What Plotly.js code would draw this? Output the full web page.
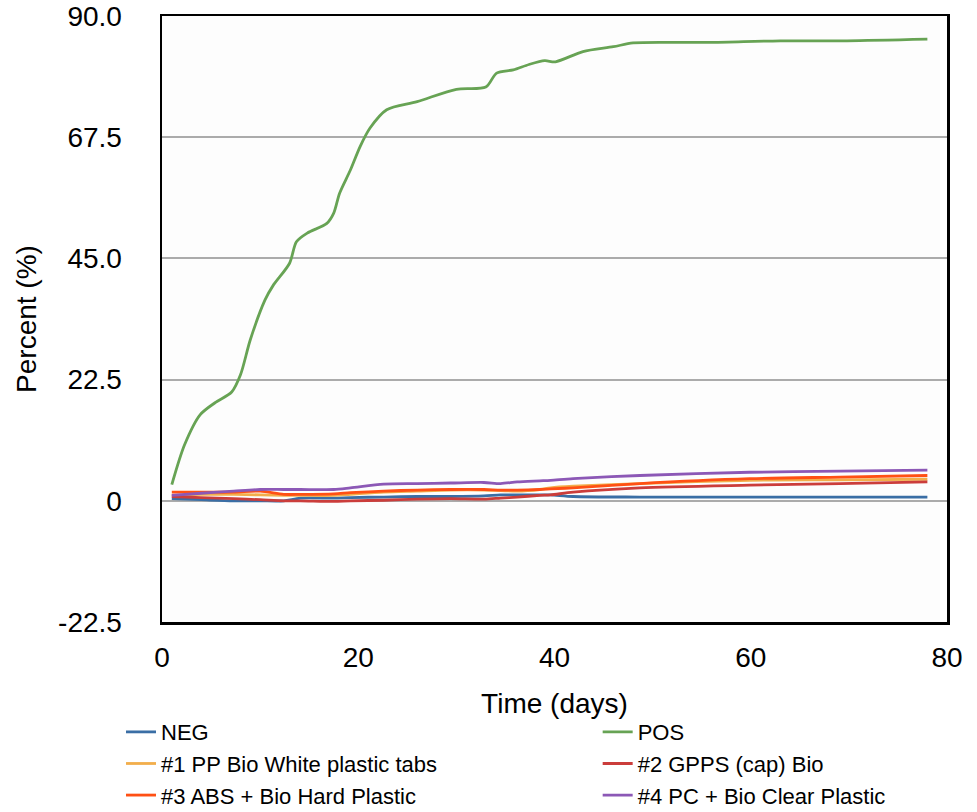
<!DOCTYPE html>
<html>
<head>
<meta charset="utf-8">
<script src="https://cdn.plot.ly/plotly-3.0.1.min.js"></script>
<style>html,body{margin:0;padding:0;background:#fff;}#chart{width:977px;height:812px;}</style>
</head>
<body>
<div id="chart"></div>
<script>
// Data
const names = ["NEG", "POS", "#1 PP Bio White plastic tabs", "#2 GPPS (cap) Bio", "#3 ABS + Bio Hard Plastic", "#4 PC + Bio Clear Plastic"];

const posDays = [1, 2.3, 3.9, 5.4, 7.1, 8, 9, 10.5, 11.3, 13, 13.7, 14.8, 16.8, 17.5, 18.1, 19.2, 20.2, 21.2, 22.9, 26, 30, 33, 34.1, 35.8, 37.4, 39, 40.1, 42.9, 46, 48, 52.8, 56.2, 63, 69.8, 78];
const posVals = [3.0, 10.4, 16.0, 18.2, 20.2, 23.4, 29.9, 37.3, 39.9, 44.1, 48.1, 49.7, 51.5, 53.4, 57.1, 61.4, 65.8, 69.2, 72.6, 74.1, 76.4, 76.8, 79.4, 80.0, 81.0, 81.7, 81.5, 83.4, 84.3, 85.0, 85.1, 85.1, 85.4, 85.4, 85.7];

const smallDays = [1, 4, 7.3, 10, 12.4, 14.1, 17.5, 19.2, 22.6, 26, 29.4, 32.8, 34.5, 36.2, 38.5, 39.6, 41.9, 48.7, 59.9, 69.1, 78];
const negVals = [0.4, 0.2, 0.0, 0.0, 0.0, 0.5, 0.5, 0.6, 0.7, 0.8, 0.8, 0.9, 1.1, 1.1, 1.1, 1.1, 0.8, 0.7, 0.7, 0.7, 0.7];
const ppVals  = [1.0, 1.2, 1.2, 1.1, 1.0, 1.0, 1.0, 1.2, 1.6, 1.8, 2.0, 2.0, 1.9, 1.8, 2.1, 2.4, 2.7, 3.2, 3.8, 3.9, 4.0];
const gppsVals = [0.8, 0.6, 0.4, 0.2, 0.0, 0.0, -0.1, 0.0, 0.1, 0.3, 0.4, 0.3, 0.5, 0.7, 1.0, 1.1, 1.6, 2.4, 2.9, 3.2, 3.5];
const absVals = [1.6, 1.6, 1.6, 1.8, 1.2, 1.2, 1.3, 1.5, 1.8, 2.0, 2.1, 2.1, 2.0, 2.0, 2.1, 2.2, 2.4, 3.2, 4.1, 4.4, 4.7];
const pcVals  = [1.0, 1.4, 1.8, 2.1, 2.1, 2.1, 2.1, 2.4, 3.1, 3.2, 3.3, 3.4, 3.2, 3.5, 3.7, 3.8, 4.1, 4.7, 5.3, 5.5, 5.7];

const colors = ["#3A6EA5", "#67A354", "#F2AE4B", "#CB3D3B", "#FF5014", "#8C58B6"];

const yTickVals = [-22.5, 0, 22.5, 45, 67.5, 90];
const yTickText = ["-22.5", "0", "22.5", "45.0", "67.5", "90.0"];
const xTickVals = [0, 20, 40, 60, 80];

const series = [
  [smallDays, negVals],
  [posDays, posVals],
  [smallDays, ppVals],
  [smallDays, gppsVals],
  [smallDays, absVals],
  [smallDays, pcVals]
];
// left legend column: NEG, #1, #3 ; right column: POS, #2, #4
const legendOf = ["legend", "legend2", "legend", "legend2", "legend", "legend2"];

const traces = series.map((s, i) => ({
  x: s[0], y: s[1], name: names[i], type: "scatter", mode: "lines",
  legend: legendOf[i],
  line: {color: colors[i], width: 2.8, shape: "spline", smoothing: 0.8}
}));

const fontFam = "Liberation Sans, Arial, Helvetica, sans-serif";

const legendBase = {
  orientation: "v", xanchor: "left", y: -0.147, yanchor: "top",
  font: {size: 22}, bgcolor: "rgba(0,0,0,0)", borderwidth: 0
};

const layout = {
  width: 977, height: 812,
  margin: {l: 162, r: 30, t: 16, b: 190, autoexpand: false},
  paper_bgcolor: "#ffffff",
  plot_bgcolor: "#fdfdfd",
  font: {family: fontFam, color: "#000", size: 28},
  showlegend: true,
  xaxis: {
    range: [0, 80], tickvals: xTickVals, ticks: "",
    showgrid: false, zeroline: false,
    showline: true, linecolor: "#000", linewidth: 2.5, mirror: true,
    tickfont: {size: 28}, ticklabelstandoff: 9,
    title: {text: "Time (days)", font: {size: 28}, standoff: 22}
  },
  yaxis: {
    range: [-22.5, 90], tickvals: yTickVals, ticktext: yTickText, ticks: "",
    showgrid: true, gridcolor: "#ABABAB", gridwidth: 2,
    zeroline: true, zerolinecolor: "#ABABAB", zerolinewidth: 2.5,
    showline: true, linecolor: "#000", linewidth: 2.5, mirror: true,
    tickfont: {size: 28}, ticklabelstandoff: 32,
    title: {text: "Percent (%)", font: {size: 28}, standoff: 14}
  },
  legend: Object.assign({}, legendBase, {x: -0.0522}),
  legend2: Object.assign({}, legendBase, {x: 0.555})
};

Plotly.newPlot("chart", traces, layout, {displayModeBar: false, staticPlot: true});
</script>
</body>
</html>
